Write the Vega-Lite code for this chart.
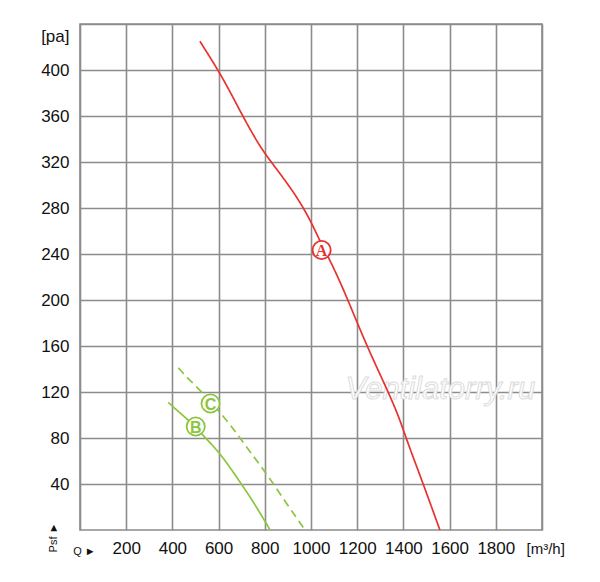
{
  "$schema": "https://vega.github.io/schema/vega-lite/v6.json",
  "width": 462,
  "height": 506,
  "autosize": "none",
  "padding": {"left": 80, "top": 24, "right": 58, "bottom": 52},
  "background": "white",
  "config": {
    "font": "Liberation Sans",
    "view": {"stroke": "#8c8c8c", "strokeWidth": 1.6}
  },
  "datasets": {
    "curves": [
      {"curve": "A", "q": 519, "p": 425},
      {"curve": "A", "q": 560, "p": 412},
      {"curve": "A", "q": 603, "p": 398},
      {"curve": "A", "q": 650, "p": 381},
      {"curve": "A", "q": 707, "p": 359},
      {"curve": "A", "q": 760, "p": 340},
      {"curve": "A", "q": 801, "p": 327},
      {"curve": "A", "q": 866, "p": 310},
      {"curve": "A", "q": 938, "p": 290},
      {"curve": "A", "q": 996, "p": 270},
      {"curve": "A", "q": 1039, "p": 251},
      {"curve": "A", "q": 1089, "p": 232},
      {"curve": "A", "q": 1150, "p": 205},
      {"curve": "A", "q": 1241, "p": 160},
      {"curve": "A", "q": 1335, "p": 120},
      {"curve": "A", "q": 1385, "p": 96},
      {"curve": "A", "q": 1411, "p": 80},
      {"curve": "A", "q": 1486, "p": 40},
      {"curve": "A", "q": 1558, "p": 0},
      {"curve": "B", "q": 382, "p": 111},
      {"curve": "B", "q": 420, "p": 104},
      {"curve": "B", "q": 462, "p": 97},
      {"curve": "B", "q": 534, "p": 82},
      {"curve": "B", "q": 606, "p": 67},
      {"curve": "B", "q": 678, "p": 46},
      {"curve": "B", "q": 736, "p": 29},
      {"curve": "B", "q": 794, "p": 10},
      {"curve": "B", "q": 823, "p": 0},
      {"curve": "C", "q": 426, "p": 141},
      {"curve": "C", "q": 470, "p": 131},
      {"curve": "C", "q": 519, "p": 122},
      {"curve": "C", "q": 635, "p": 96},
      {"curve": "C", "q": 721, "p": 72},
      {"curve": "C", "q": 808, "p": 49},
      {"curve": "C", "q": 894, "p": 23},
      {"curve": "C", "q": 974, "p": 0}
    ],
    "badges": [
      {"curve": "A", "q": 1046, "p": 243.5},
      {"curve": "B", "q": 501, "p": 90},
      {"curve": "C", "q": 565, "p": 110}
    ],
    "watermark": [
      {"q": 1560, "p": 122, "text": "Ventilatorry.ru"}
    ]
  },
  "encoding": {
    "x": {
      "field": "q",
      "type": "quantitative",
      "scale": {"domain": [0, 2000], "nice": false},
      "axis": {
        "values": [0, 200, 400, 600, 800, 1000, 1200, 1400, 1600, 1800, 2000],
        "labelExpr": "datum.value == 0 ? 'Q ►' : (datum.value == 2000 ? '' : datum.label)",
        "format": "d",
        "domain": false,
        "ticks": false,
        "grid": true,
        "gridColor": "#8c8c8c",
        "gridWidth": 1.6,
        "gridOpacity": 1,
        "labelFontSize": {"condition": {"test": "datum.value == 0", "value": 11}, "value": 17},
        "labelOffset": {"condition": {"test": "datum.value == 0", "value": 4}, "value": 0},
        "labelPadding": {"condition": {"test": "datum.value == 0", "value": 15}, "value": 10},
        "labelColor": "#111",
        "labelOverlap": false,
        "labelFlush": false,
        "labelBound": false,
        "title": "[m³/h]",
        "titleFontSize": 15,
        "titleFontWeight": "normal",
        "titleColor": "#111",
        "titleAlign": "left",
        "titleBaseline": "middle",
        "titleX": 446,
        "titleY": 18
      }
    },
    "y": {
      "field": "p",
      "type": "quantitative",
      "scale": {"domain": [0, 440], "nice": false},
      "axis": {
        "values": [40, 80, 120, 160, 200, 240, 280, 320, 360, 400, 440],
        "labelExpr": "datum.value == 440 ? '[pa]' : datum.label",
        "format": "d",
        "domain": false,
        "ticks": false,
        "grid": true,
        "gridColor": "#8c8c8c",
        "gridWidth": 1.6,
        "gridOpacity": 1,
        "labelFontSize": 17,
        "labelOffset": {"condition": {"test": "datum.value == 440", "value": 12}, "value": 0},
        "labelPadding": 11,
        "labelColor": "#111",
        "labelOverlap": false,
        "labelBound": false,
        "labelFlush": false,
        "title": "Psf     ►",
        "titleFontSize": 11,
        "titleFontWeight": "normal",
        "titleColor": "#111",
        "titleAngle": 270,
        "titleAlign": "center",
        "titleBaseline": "middle",
        "titleX": -27,
        "titleY": 513
      }
    }
  },
  "layer": [
    {
      "data": {"name": "watermark"},
      "mark": {
        "type": "text",
        "font": "Liberation Sans",
        "fontStyle": "italic",
        "fontSize": 31,
        "color": "white",
        "stroke": "#dcdcdc",
        "strokeWidth": 1,
        "align": "center",
        "baseline": "middle"
      },
      "encoding": {"text": {"field": "text"}}
    },
    {
      "data": {"name": "curves"},
      "mark": {"type": "line", "interpolate": "basis", "strokeWidth": 1.7},
      "encoding": {
        "color": {
          "field": "curve",
          "type": "nominal",
          "scale": {"domain": ["A", "B", "C"], "range": ["#e8322e", "#8cc63f", "#8cc63f"]},
          "legend": null
        },
        "strokeDash": {
          "field": "curve",
          "type": "nominal",
          "scale": {"domain": ["A", "B", "C"], "range": [[1, 0], [1, 0], [8, 5]]},
          "legend": null
        },
        "order": {"field": "q", "type": "quantitative"}
      }
    },
    {
      "data": {"name": "badges"},
      "mark": {"type": "point", "shape": "circle", "filled": true, "fill": "white", "fillOpacity": 1, "opacity": 1, "size": 330, "strokeWidth": 1.8},
      "encoding": {
        "stroke": {
          "field": "curve",
          "type": "nominal",
          "scale": {"domain": ["A", "B", "C"], "range": ["#e8322e", "#8cc63f", "#8cc63f"]},
          "legend": null
        }
      }
    },
    {
      "data": {"name": "badges"},
      "transform": [{"filter": "datum.curve == 'A'"}],
      "mark": {"type": "text", "font": "Liberation Serif", "fontWeight": "bold", "fontSize": 16, "color": "#e8322e", "align": "center", "baseline": "middle", "dy": 1},
      "encoding": {"text": {"field": "curve"}}
    },
    {
      "data": {"name": "badges"},
      "transform": [{"filter": "datum.curve != 'A'"}],
      "mark": {"type": "text", "font": "Liberation Sans", "fontWeight": "bold", "fontSize": 16, "color": "#8cc63f", "align": "center", "baseline": "middle", "dy": 1},
      "encoding": {"text": {"field": "curve"}}
    }
  ]
}
